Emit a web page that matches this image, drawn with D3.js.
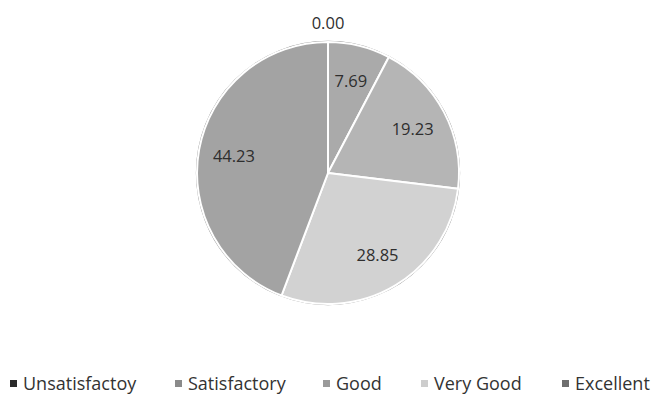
<!DOCTYPE html>
<html>
<head>
<meta charset="utf-8">
<script src="https://cdn.jsdelivr.net/npm/d3@7/dist/d3.min.js"></script>
<style>
  html, body { margin: 0; padding: 0; background: #fff; }
  svg { display: block; }
  text { font-family: "Open Sans", "Noto Sans", sans-serif; }
</style>
</head>
<body>
<svg id="chart" width="661" height="398"></svg>
<script>
// Ratings and their shares (%)
const categories = ["Unsatisfactoy", "Satisfactory", "Good", "Very Good", "Excellent"];
const values = [0.00, 7.69, 19.23, 28.85, 44.23];
const labels = ["0.00", "7.69", "19.23", "28.85", "44.23"];

const sliceColors = ["#4a4a4a", "#aaaaaa", "#b5b5b5", "#d2d2d2", "#a3a3a3"];
const markerColors = ["#2a2a2a", "#8a8a8a", "#9a9a9a", "#cdcdcd", "#6e6e6e"];

const svg = d3.select("#chart");
const cx = 328, cy = 173, r = 131;

const data = categories.map((c, i) => ({ cat: c, value: values[i], label: labels[i], i }));

const pie = d3.pie().value(d => d.value).sort(null);
const arcs = pie(data);
const arc = d3.arc().innerRadius(0).outerRadius(r);
const labelArc = d3.arc().innerRadius(r * 0.73).outerRadius(r * 0.73);
const outerLabelArc = d3.arc().innerRadius(r + 20).outerRadius(r + 20);

const g = svg.append("g").attr("transform", `translate(${cx},${cy})`);

// outline ring
g.append("circle").attr("r", r + 0.5).attr("fill", "none").attr("stroke", "#8a8a8a").attr("stroke-width", 1.3);

g.selectAll("path.slice")
  .data(arcs)
  .join("path")
  .attr("class", "slice")
  .attr("d", arc)
  .attr("fill", d => sliceColors[d.data.i])
  .attr("stroke", "#ffffff")
  .attr("stroke-width", 2)
  .attr("stroke-linejoin", "round");

// zero-width slice still shows its boundary line at the top
arcs.filter(d => d.data.value === 0).forEach(d => {
  g.append("line")
    .attr("x1", 0).attr("y1", 0)
    .attr("x2", r * Math.sin(d.startAngle)).attr("y2", -r * Math.cos(d.startAngle))
    .attr("stroke", "#ffffff").attr("stroke-width", 2);
});

g.selectAll("text.val")
  .data(arcs)
  .join("text")
  .attr("class", "val")
  .attr("transform", d => {
    const p = d.data.value === 0 ? outerLabelArc.centroid(d) : labelArc.centroid(d);
    return `translate(${p[0]},${p[1]})`;
  })
  .attr("text-anchor", "middle")
  .attr("dominant-baseline", "central")
  .attr("font-size", 16.5)
  .attr("fill", "#2e2e2e")
  .text(d => d.data.label);

// legend
const legendX = [10, 175, 323, 421, 562];
const legendY = 383;
const lg = svg.append("g");
categories.forEach((c, i) => {
  lg.append("rect")
    .attr("x", legendX[i]).attr("y", legendY - 3)
    .attr("width", 7).attr("height", 7)
    .attr("fill", markerColors[i]);
  lg.append("text")
    .attr("x", legendX[i] + 13).attr("y", legendY)
    .attr("dominant-baseline", "central")
    .attr("font-size", 18)
    .attr("fill", "#333")
    .text(c);
});
</script>
</body>
</html>
